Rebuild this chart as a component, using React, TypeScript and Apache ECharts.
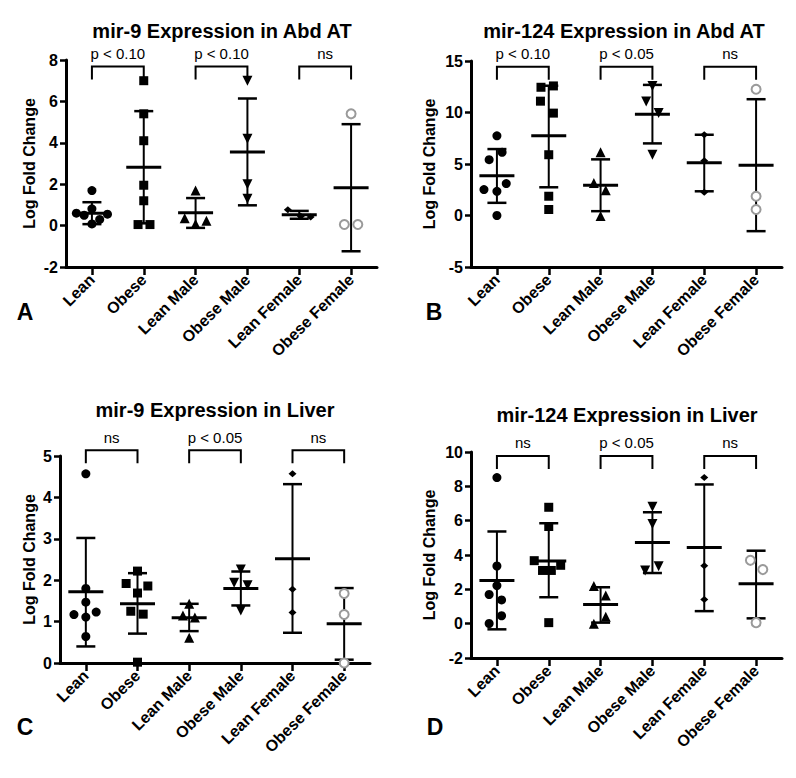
import React, { useEffect, useRef } from "react";
import * as echarts from "echarts";

const FONT = 'Arial, "Liberation Sans", Helvetica, sans-serif';

const categories = ["Lean", "Obese", "Lean Male", "Obese Male", "Lean Female", "Obese Female"];

// ---------- Panel A: mir-9 Expression in Abd AT ----------
const aPoints = [
  [1.69, 0.81, 0.6, 0.55, 0.5, 0.3, 0.08],
  [7.0, 5.4, 4.1, 1.95, 1.2, 0.05, 0.05],
  [1.69, 0.36, 0.24, 0.08],
  [7.0, 4.2, 2.0, 1.3],
  [0.77, 0.45, 0.42],
  [5.4, 0.05, 0.05],
];
const aJitter = [
  [0, 0, -0.3, 0.3, -0.15, 0.15, 0],
  [0, 0, 0, 0, 0, -0.11, 0.12],
  [0, -0.21, 0.21, 0],
  [0, 0, 0, 0],
  [-0.22, 0.03, 0.22],
  [0, -0.13, 0.13],
];
const aMean = [0.6, 2.82, 0.62, 3.55, 0.52, 1.83];
const aLow = [0.07, 0.11, -0.11, 0.98, 0.33, -1.24];
const aHigh = [1.13, 5.53, 1.33, 6.14, 0.71, 4.9];
const aSig = ["p < 0.10", "p < 0.10", "ns"];

// ---------- Panel B: mir-124 Expression in Abd AT ----------
const bPoints = [
  [7.74, 6.13, 5.42, 3.1, 2.52, 2.35, 0],
  [12.45, 12.58, 11.1, 9.94, 5.9, 1.87, 0.58],
  [6.13, 3.16, 2.45, -0.06],
  [12.58, 11.06, 9.94, 5.9],
  [7.84, 5.32, 2.26],
  [12.26, 1.87, 0.58],
];
const bJitter = [
  [0, 0.1, -0.15, 0.18, -0.25, 0, 0],
  [-0.15, 0.09, -0.16, 0.09, 0, 0, 0],
  [0, -0.13, 0.1, 0],
  [0, -0.12, 0.12, 0],
  [0, 0, 0],
  [0, 0, 0],
];
const bMean = [3.87, 7.74, 2.93, 9.84, 5.12, 4.87];
const bLow = [1.23, 2.74, 0.42, 7.0, 2.35, -1.52];
const bHigh = [6.45, 12.6, 5.45, 12.68, 7.84, 11.29];
const bSig = ["p < 0.10", "p < 0.05", "ns"];

// ---------- Panel C: mir-9 Expression in Liver ----------
const cPoints = [
  [4.57, 1.8, 1.47, 1.23, 1.17, 1.11, 0.64],
  [2.22, 1.92, 1.86, 1.69, 1.25, 1.18, 0.02],
  [1.43, 1.15, 1.1, 0.61],
  [2.26, 1.94, 1.88, 1.27],
  [4.57, 1.78, 1.22],
  [1.68, 1.17, 0.0],
];
const cJitter = [
  [0, 0, 0, 0.2, -0.23, 0, 0],
  [0, -0.22, 0.2, 0, -0.13, 0.11, 0],
  [0, -0.12, 0.11, 0],
  [0, -0.13, 0.13, 0],
  [0, 0, 0],
  [0, 0, 0],
];
const cMean = [1.72, 1.43, 1.09, 1.8, 2.52, 0.95];
const cLow = [0.4, 0.71, 0.77, 1.39, 0.73, 0.08];
const cHigh = [3.02, 2.17, 1.43, 2.21, 4.32, 1.81];
const cSig = ["ns", "p < 0.05", "ns"];

// ---------- Panel D: mir-124 Expression in Liver ----------
const dPoints = [
  [8.51, 3.36, 2.22, 1.7, 1.38, 0.46, 0.01],
  [6.78, 5.66, 3.67, 3.4, 3.1, 3.1, 0.06],
  [2.2, 1.64, 0.41, 0.0],
  [6.81, 5.81, 3.34, 3.1],
  [8.51, 3.38, 1.41],
  [3.69, 3.15, 0.06],
];
const dJitter = [
  [0, 0, 0, -0.15, 0.09, 0.09, -0.15],
  [0, 0, -0.28, 0.23, -0.12, 0.05, 0],
  [-0.13, 0.1, 0.1, -0.13],
  [0, 0, 0.12, -0.14],
  [0, 0, 0],
  [-0.11, 0.13, 0],
];
const dMean = [2.51, 3.65, 1.12, 4.73, 4.44, 2.32];
const dLow = [-0.33, 1.54, 0.06, 2.95, 0.73, 0.31];
const dHigh = [5.37, 5.85, 2.12, 6.49, 8.11, 4.25];
const dSig = ["ns", "p < 0.05", "ns"];

const sigPairs = [
  [0, 1],
  [2, 3],
  [4, 5],
];

const panels = [
  {
    title: "mir-9 Expression in Abd AT", letter: "A",
    points: aPoints, jitter: aJitter, mean: aMean, low: aLow, high: aHigh, sig: aSig,
    yMin: -2, yMax: 8, yInterval: 2, bracketTop: 7.68,
    grid: { left: 66, top: 60, width: 311, height: 207 }, nameGap: 29,
    titlePos: [222, 31], letterPos: [25, 312],
  },
  {
    title: "mir-124 Expression in Abd AT", letter: "B",
    points: bPoints, jitter: bJitter, mean: bMean, low: bLow, high: bHigh, sig: bSig,
    yMin: -5, yMax: 15, yInterval: 5, bracketTop: 14.45,
    grid: { left: 471, top: 61, width: 311, height: 206 }, nameGap: 34,
    titlePos: [624, 31], letterPos: [434, 312],
  },
  {
    title: "mir-9 Expression in Liver", letter: "C",
    points: cPoints, jitter: cJitter, mean: cMean, low: cLow, high: cHigh, sig: cSig,
    yMin: 0, yMax: 5, yInterval: 1, bracketTop: 5.14,
    grid: { left: 60, top: 456, width: 310, height: 207 }, nameGap: 23,
    titlePos: [215, 410], letterPos: [25, 727],
  },
  {
    title: "mir-124 Expression in Liver", letter: "D",
    points: dPoints, jitter: dJitter, mean: dMean, low: dLow, high: dHigh, sig: dSig,
    yMin: -2, yMax: 10, yInterval: 2, bracketTop: 9.77,
    grid: { left: 471, top: 452, width: 311, height: 206 }, nameGap: 34,
    titlePos: [627, 415], letterPos: [435, 727],
  },
];

const SYMBOLS = ["circle", "rect", "triangle", "triangle", "diamond", "circle"];
const SYMBOL_ROTATE = [0, 0, 0, 180, 0, 0];
const SYMBOL_SIZE: any[] = [9, 9, 10, 10, [8, 7], 9];

function buildOption() {
  const grid: any[] = [];
  const xAxis: any[] = [];
  const yAxis: any[] = [];
  const series: any[] = [];
  const graphic: any[] = [];

  panels.forEach((p, pi) => {
    grid.push({ ...p.grid, containLabel: false });
    xAxis.push({
      type: "category",
      gridIndex: pi,
      data: categories,
      boundaryGap: true,
      axisLine: { show: true, onZero: false, lineStyle: { color: "#000", width: 3 } },
      axisTick: { show: true, alignWithLabel: true, length: 8, lineStyle: { color: "#000", width: 2.5 } },
      axisLabel: {
        interval: 0, rotate: 45, margin: 10, color: "#000",
        fontFamily: FONT, fontWeight: "bold", fontSize: 16,
      },
      splitLine: { show: false },
    });
    xAxis.push({
      type: "value", gridIndex: pi, min: -0.5, max: 5.5, show: false,
    });
    yAxis.push({
      type: "value",
      gridIndex: pi,
      min: p.yMin, max: p.yMax, interval: p.yInterval,
      name: "Log Fold Change",
      nameLocation: "middle",
      nameGap: p.nameGap,
      nameTextStyle: { fontFamily: FONT, fontWeight: "bold", fontSize: 16, color: "#000" },
      axisLine: { show: true, onZero: false, lineStyle: { color: "#000", width: 3 } },
      axisTick: { show: true, length: 6, lineStyle: { color: "#000", width: 2.5 } },
      axisLabel: { margin: 8, color: "#000", fontFamily: FONT, fontWeight: "bold", fontSize: 16 },
      splitLine: { show: false },
    });

    // error bars (mean ± SD)
    series.push({
      type: "custom",
      xAxisIndex: pi * 2 + 1,
      yAxisIndex: pi,
      clip: false,
      z: 3,
      data: p.mean.map((m, g) => [g, m, p.low[g], p.high[g]]),
      encode: { x: 0, y: [1, 2, 3] },
      renderItem: (params: any, api: any) => {
        const x = api.value(0);
        const pm = api.coord([x, api.value(1)]);
        const pl = api.coord([x, api.value(2)]);
        const ph = api.coord([x, api.value(3)]);
        const cx = pm[0];
        return {
          type: "group",
          children: [
            { type: "line", shape: { x1: cx, y1: ph[1], x2: cx, y2: pl[1] }, style: { stroke: "#000", lineWidth: 2 } },
            { type: "line", shape: { x1: cx - 9.5, y1: ph[1], x2: cx + 9.5, y2: ph[1] }, style: { stroke: "#000", lineWidth: 2.5 } },
            { type: "line", shape: { x1: cx - 9.5, y1: pl[1], x2: cx + 9.5, y2: pl[1] }, style: { stroke: "#000", lineWidth: 2.5 } },
            { type: "line", shape: { x1: cx - 17.5, y1: pm[1], x2: cx + 17.5, y2: pm[1] }, style: { stroke: "#000", lineWidth: 3 } },
          ],
        };
      },
    });

    // significance brackets
    series.push({
      type: "custom",
      xAxisIndex: pi * 2 + 1,
      yAxisIndex: pi,
      clip: false,
      z: 3,
      data: sigPairs.map((pair) => [pair[0], pair[1], p.bracketTop]),
      encode: { x: [0, 1], y: 2 },
      renderItem: (params: any, api: any) => {
        const p1 = api.coord([api.value(0), api.value(2)]);
        const p2 = api.coord([api.value(1), api.value(2)]);
        const label = p.sig[params.dataIndex];
        return {
          type: "group",
          children: [
            {
              type: "polyline",
              shape: { points: [[p1[0], p1[1] + 13], [p1[0], p1[1]], [p2[0], p2[1]], [p2[0], p2[1] + 13]] },
              style: { stroke: "#000", lineWidth: 2, fill: null },
            },
            {
              type: "text",
              x: (p1[0] + p2[0]) / 2,
              y: p1[1] - 13,
              style: {
                text: label, fill: "#000", fontFamily: FONT, fontSize: 15,
                align: "center", verticalAlign: "middle",
                textAlign: "center", textVerticalAlign: "middle",
              },
            },
          ],
        };
      },
    });

    // individual points
    p.points.forEach((vals, g) => {
      const isOpen = g === 5;
      series.push({
        type: "scatter",
        xAxisIndex: pi * 2 + 1,
        yAxisIndex: pi,
        z: 4,
        symbol: SYMBOLS[g],
        symbolRotate: SYMBOL_ROTATE[g],
        symbolSize: SYMBOL_SIZE[g],
        itemStyle: isOpen
          ? { color: "#fff", borderColor: "#9a9a9a", borderWidth: 2, opacity: 1 }
          : { color: "#000", opacity: 1 },
        data: vals.map((v, i) => [g + p.jitter[g][i], v]),
      });
    });

    graphic.push({
      type: "text",
      x: p.titlePos[0],
      y: p.titlePos[1],
      style: {
        text: p.title, fill: "#000", font: `bold 20px ${FONT}`,
        textAlign: "center", textVerticalAlign: "middle",
      },
    });
    graphic.push({
      type: "text",
      x: p.letterPos[0],
      y: p.letterPos[1],
      style: {
        text: p.letter, fill: "#000", font: `bold 23px ${FONT}`,
        textAlign: "center", textVerticalAlign: "middle",
      },
    });
  });

  return {
    animation: false,
    backgroundColor: "#fff",
    grid, xAxis, yAxis, series, graphic,
  };
}

export default function App() {
  const ref = useRef<HTMLDivElement>(null);
  useEffect(() => {
    if (!ref.current) return;
    const chart = echarts.init(ref.current, null, { renderer: "svg" });
    chart.setOption(buildOption() as any);
    return () => chart.dispose();
  }, []);
  return (
    <div
      ref={ref}
      style={{ position: "fixed", left: 0, top: 0, width: 796, height: 778, background: "#fff" }}
    />
  );
}
